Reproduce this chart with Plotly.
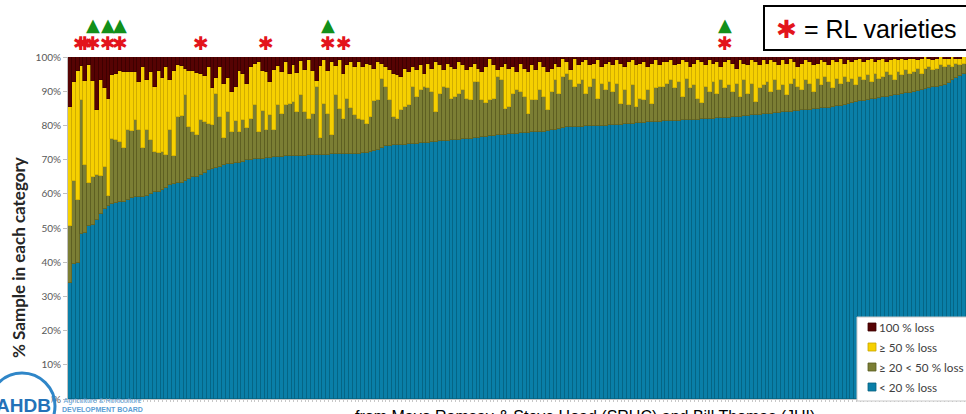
import plotly.graph_objects as go

# ---- data (one value per sample, sorted by blue share) ----
# cumulative top of the "< 20 % loss" band (= its share)
lt20 = [
    34.0, 39.4, 39.9, 48.2, 48.4, 50.7, 51.0, 52.2, 54.0, 55.6,
    56.4, 56.9, 57.3, 57.6, 57.6, 58.3, 58.8, 59.0, 59.0, 59.1,
    59.3, 59.9, 60.5, 60.5, 61.0, 61.8, 62.5, 63.0, 63.2, 63.3,
    63.8, 64.4, 64.9, 64.9, 65.6, 66.1, 67.1, 67.3, 67.5, 67.7,
    68.3, 68.6, 68.8, 69.0, 69.0, 69.3, 69.8, 70.0, 70.1, 70.1,
    70.3, 70.5, 70.6, 70.7, 70.8, 70.9, 71.0, 71.0, 71.1, 71.1,
    71.2, 71.2, 71.3, 71.3, 71.3, 71.4, 71.4, 71.4, 71.5, 71.5,
    71.5, 71.5, 71.6, 71.6, 71.6, 71.7, 71.8, 72.0, 72.2, 72.5,
    72.9, 73.4, 74.0, 74.1, 74.2, 74.3, 74.4, 74.4, 74.5, 74.6,
    74.6, 74.8, 74.9, 75.0, 75.1, 75.2, 75.3, 75.4, 75.5, 75.6,
    75.7, 75.8, 75.9, 76.0, 76.1, 76.2, 76.4, 76.5, 76.7, 76.9,
    77.0, 77.1, 77.2, 77.3, 77.4, 77.5, 77.6, 77.7, 77.8, 77.9,
    78.0, 78.0, 78.1, 78.2, 78.4, 78.6, 78.8, 79.0, 79.2, 79.4,
    79.5, 79.5, 79.6, 79.6, 79.7, 79.7, 79.8, 79.8, 79.9, 79.9,
    80.0, 80.1, 80.2, 80.2, 80.3, 80.4, 80.5, 80.6, 80.7, 80.8,
    80.9, 80.9, 81.0, 81.1, 81.2, 81.3, 81.3, 81.4, 81.4, 81.5,
    81.5, 81.6, 81.7, 81.7, 81.8, 81.9, 81.9, 82.0, 82.1, 82.2,
    82.3, 82.3, 82.4, 82.5, 82.6, 82.7, 82.8, 82.9, 83.0, 83.1,
    83.2, 83.3, 83.4, 83.5, 83.7, 83.8, 83.9, 84.0, 84.2, 84.3,
    84.4, 84.5, 84.6, 84.7, 84.9, 85.0, 85.1, 85.2, 85.4, 85.6,
    85.8, 86.0, 86.2, 86.5, 86.8, 87.0, 87.2, 87.4, 87.6, 87.8,
    88.0, 88.2, 88.4, 88.6, 88.8, 89.0, 89.2, 89.4, 89.6, 89.9,
    90.1, 90.3, 90.6, 90.8, 91.1, 91.3, 91.6, 91.9, 92.5, 93.2,
    93.8, 94.4, 94.9,
]

# cumulative top of the "≥ 20 < 50 % loss" band
cum_lt50 = [
    50.5, 63.7, 58.1, 87.5, 68.3, 63.2, 64.9, 65.4, 65.1, 67.8,
    59.4, 76.1, 75.8, 75.1, 73.5, 78.6, 78.4, 81.5, 78.6, 73.5,
    78.6, 75.6, 72.2, 71.8, 72.2, 71.3, 78.8, 71.0, 82.5, 82.7,
    88.8, 79.5, 78.1, 77.1, 81.5, 81.0, 80.3, 80.0, 89.3, 82.5,
    76.4, 83.9, 78.1, 81.3, 78.1, 81.5, 79.1, 82.0, 85.9, 78.1,
    84.2, 78.6, 83.0, 78.6, 85.9, 83.4, 85.9, 86.4, 86.8, 83.9,
    88.8, 83.9, 82.0, 83.4, 91.2, 76.4, 86.4, 83.4, 77.1, 88.8,
    84.9, 82.0, 87.8, 85.0, 83.0,
    82.0, 81.7, 80.3, 82.5, 87.1, 87.3, 93.7, 91.2, 87.3, 82.5,
    82.0, 84.6, 85.4, 85.9, 91.2, 88.3, 90.3, 91.1, 90.8, 89.8,
    83.9, 89.3, 91.2, 90.8, 87.8, 88.3, 89.3, 90.3, 87.8, 87.3,
    92.7, 92.7, 87.3, 86.5, 87.3, 87.8, 94.2, 93.2, 84.9, 85.4,
    89.3, 90.3, 89.8, 88.3, 83.4, 87.3, 87.3, 90.3, 88.3, 84.4,
    89.8, 93.2, 89.3, 94.2, 95.1, 93.2, 91.2, 92.2, 93.2, 89.3,
    91.2, 93.7, 87.8, 92.2, 90.3, 92.7, 89.8, 92.2, 86.4, 90.3,
    85.9, 91.7, 85.4, 87.8, 87.3, 90.3, 86.4, 90.8, 91.2, 91.2,
    92.2, 93.2, 90.8, 92.7, 88.3, 93.7, 90.8, 91.7, 87.8, 86.6,
    91.2, 89.8, 92.7, 89.3, 93.2, 90.8, 91.7, 89.8, 92.2, 88.3,
    93.2, 89.3, 92.2, 86.9, 90.8, 91.7, 92.7, 89.8, 93.2, 90.3,
    91.7, 88.8, 92.2, 93.7, 91.2, 90.3, 93.2, 92.2, 89.8, 93.7,
    91.7, 94.2, 92.7, 90.8, 93.7, 92.2, 94.2, 92.7, 93.7, 91.7,
    94.2, 93.2, 94.7, 92.7, 95.1, 93.7, 94.2, 95.6, 94.7, 93.2,
    95.6, 94.7, 96.1, 95.1, 95.6, 96.6, 95.1, 96.6, 97.1, 96.1,
    96.6, 97.6, 97.1, 97.6, 97.1, 98.1, 97.6, 98.1,
]

# cumulative top of the "≥ 50 % loss" band (the rest up to 100 % is "100 % loss")
cum_lt100 = [
    85.4, 92.7, 95.9, 97.4, 93.0, 97.6, 93.0, 84.4, 93.4, 91.0,
    87.8, 94.6, 95.1, 95.9, 95.6, 95.6, 95.6, 95.6, 92.8, 97.0,
    93.4, 95.6, 91.2, 95.9, 94.0, 97.0, 93.4, 95.9, 97.6, 97.3,
    96.4, 96.0, 95.8, 95.2, 95.0, 94.3, 97.0, 91.0, 94.0, 97.0,
    92.0, 93.8, 89.8, 91.3, 96.0, 95.0, 92.2, 97.0, 98.0, 98.5,
    96.0, 95.5, 92.6, 96.3, 97.5, 95.5, 98.5, 95.0, 97.6, 95.3,
    98.8, 96.3, 99.0, 96.0, 93.0, 97.4, 99.0, 96.0, 98.5, 97.5,
    99.0, 95.0, 97.6, 98.5, 97.0,
    98.6, 97.1, 98.1, 97.6, 96.6, 98.6, 98.1, 97.1, 96.1, 95.1,
    94.6, 94.2, 96.6, 95.6, 97.1, 96.1, 97.6, 95.1, 98.1, 96.6,
    98.6, 97.6, 96.1, 98.1, 97.1, 96.6, 98.6, 97.6, 96.1, 97.1,
    98.1, 96.6, 95.6, 97.1, 99.5, 97.6, 96.1, 97.1, 98.1, 96.6,
    97.1, 95.6, 98.1, 96.6, 95.6, 97.6, 96.1, 98.6, 97.1, 95.6,
    96.6, 98.1, 97.1, 99.5, 98.6, 96.1, 99.5, 97.6, 98.6, 99.0,
    97.6, 98.1, 99.0, 97.1, 98.1, 98.6, 97.6, 99.0, 98.1, 97.1,
    98.6, 99.0, 97.6, 98.1, 98.6, 97.1, 98.1, 99.0, 97.6, 98.6,
    98.6, 99.0, 97.6, 98.1, 99.0, 98.6, 97.1, 98.1, 99.0, 98.6,
    97.6, 99.0, 98.1, 98.6, 97.1, 98.6, 99.0, 98.1, 96.6, 99.0,
    98.1, 97.6, 99.0, 98.6, 97.6, 99.0, 98.1, 99.0, 98.6, 97.6,
    99.0, 98.1, 99.5, 98.6, 97.1, 98.1, 99.0, 98.6, 97.6, 98.1,
    99.0, 98.6, 97.6, 99.0, 98.6, 99.5, 98.1, 99.0, 98.6, 99.0,
    99.5, 98.6, 99.0, 99.5, 98.6, 99.0, 99.5, 98.6, 99.0, 99.5,
    99.0, 99.5, 99.0, 99.5, 99.5, 99.0, 99.5, 100.0, 99.5, 99.0,
    99.5, 100.0, 99.5, 99.5, 100.0, 99.5, 99.5, 100.0,
]

rl_samples = [3, 4, 6, 10, 13, 34, 51, 67, 71, 170]      # red asterisks (RL varieties)
tri_samples = [6, 10, 13, 67, 170]                       # green triangles
y_ticks = [0, 10, 20, 30, 40, 50, 60, 70, 80, 90, 100]
y_tick_text = ["0%", "10%", "20%", "30%", "40%", "50%", "60%", "70%", "80%", "90%", "100%"]
legend_names = ["< 20 % loss", "≥ 20 < 50 % loss", "≥ 50 % loss", "100 % loss"]

n = len(lt20)
idx = list(range(n))
share_blue = lt20
share_olive = [max(0.0, b - a) for a, b in zip(lt20, cum_lt50)]
share_yellow = [max(0.0, c - b) for b, c in zip(cum_lt50, cum_lt100)]
share_maroon = [max(0.0, 100.0 - c) for c in cum_lt100]

fills = ["#0a7fa8", "#7b7e34", "#f6d000", "#560303"]
edges = ["#05617f", "#585a1f", "#c9a600", "#3a0000"]

fig = go.Figure()
for name, vals, fc, ec in zip(legend_names,
                              [share_blue, share_olive, share_yellow, share_maroon],
                              fills, edges):
    fig.add_trace(go.Bar(x=idx, y=vals, name=name, showlegend=False,
                         marker=dict(color=fc, line=dict(color=ec, width=0.6))))

L, R, T, B = 68, 0, 57, 15
W, H = 966, 414
PW, PH = W - L - R, H - T - B


def px(x):
    return (x - L) / PW


def py(y):
    return (H - B - y) / PH


fig.update_layout(
    width=W, height=H,
    margin=dict(l=L, r=R, t=T, b=B),
    barmode="stack", bargap=0,
    paper_bgcolor="white", plot_bgcolor="white",
    font=dict(family="Lato", color="#404040"),
    xaxis=dict(range=[-0.5, n - 0.5], showticklabels=False, showgrid=False,
               zeroline=False, showline=True, linecolor="#c8c8c8",
               ticks="outside", ticklen=2, tickcolor="#c8c8c8", dtick=1),
    yaxis=dict(range=[0, 100], tickvals=y_ticks, ticktext=y_tick_text,
               tickfont=dict(size=10, color="#595959", family="Lato"),
               showgrid=False, zeroline=False, showline=True, linecolor="#bfbfbf",
               ticks="outside", ticklen=4, tickcolor="#bfbfbf"),
    showlegend=False,
)

# markers above bars: x through the category axis, y through the value axis domain
for s in rl_samples:
    fig.add_annotation(xref="x", yref="y domain", x=s, y=1.04, showarrow=False,
                       text="✱", xanchor="center", yanchor="middle",
                       font=dict(size=19, color="#e3141c", family="DejaVu Sans"))
for s in tri_samples:
    fig.add_annotation(xref="x", yref="y domain", x=s, y=1.094, showarrow=False,
                       text="▲", xanchor="center", yanchor="middle",
                       font=dict(size=18, color="#12901a", family="DejaVu Sans"))

# legend (box bottom-right, drawn inside the plot like the original)
fig.add_shape(type="rect", xref="paper", yref="paper",
              x0=px(857), x1=px(975), y0=py(401), y1=py(317),
              line=dict(color="#c8c8c8", width=1), fillcolor="white")
rows = [327, 347, 367, 387]
for row, name, fc, ec in zip(rows, legend_names[::-1], fills[::-1], edges[::-1]):
    fig.add_shape(type="rect", xref="paper", yref="paper",
                  x0=px(868), x1=px(876), y0=py(row + 4), y1=py(row - 4),
                  line=dict(color=ec, width=0.8), fillcolor=fc)
    fig.add_annotation(xref="paper", yref="paper", x=px(877), y=py(row),
                       xanchor="left", yanchor="middle", showarrow=False,
                       text=name, font=dict(size=11.7, color="#404040", family="Lato"))

# RL varieties box
fig.add_shape(type="rect", xref="paper", yref="paper",
              x0=px(764), x1=px(975), y0=py(50), y1=py(6),
              line=dict(color="black", width=2), fillcolor="white")
fig.add_annotation(xref="paper", yref="paper", x=px(774), y=py(29),
                   xanchor="left", yanchor="middle", showarrow=False,
                   text="<span style='color:#e3141c'>✱</span> = RL varieties",
                   font=dict(size=25, color="black", family="Liberation Sans"))

# y axis title
fig.add_annotation(xref="paper", yref="paper", x=px(18), y=py(258),
                   xanchor="center", yanchor="middle", showarrow=False, textangle=-90,
                   text="<b>% Sample in each category</b>",
                   font=dict(size=17, color="#262626", family="Lato"))

# AHDB logo (partial, bottom-left)
fig.add_shape(type="circle", xref="paper", yref="paper",
              x0=px(-11), x1=px(55), y0=py(439), y1=py(373),
              line=dict(color="#2f86c8", width=3))
fig.add_annotation(xref="paper", yref="paper", x=px(-5), y=py(405),
                   xanchor="left", yanchor="middle", showarrow=False,
                   text="<b>AHDB</b>", bgcolor="white", borderpad=0,
                   font=dict(size=19, color="#2472b8", family="Liberation Sans"))
fig.add_annotation(xref="paper", yref="paper", x=px(60), y=py(405),
                   xanchor="left", yanchor="middle", showarrow=False,
                   text="Agriculture & Horticulture<br><b>DEVELOPMENT BOARD</b>",
                   font=dict(size=7, color="#5c9fd6", family="Liberation Sans"))

# source line (cut by the bottom edge, as in the original)
fig.add_annotation(xref="paper", yref="paper", x=px(353), y=py(406),
                   xanchor="left", yanchor="top", showarrow=False,
                   text="from Mayo Ramsay & Steve Hoad (SRUC) and Bill Thomas (JHI)",
                   font=dict(size=16, color="black", family="Liberation Sans"))

fig.write_html("out.html", config={"displayModeBar": False},
               post_script="document.body.style.margin='0px';"
                           "document.body.style.overflow='hidden';")
